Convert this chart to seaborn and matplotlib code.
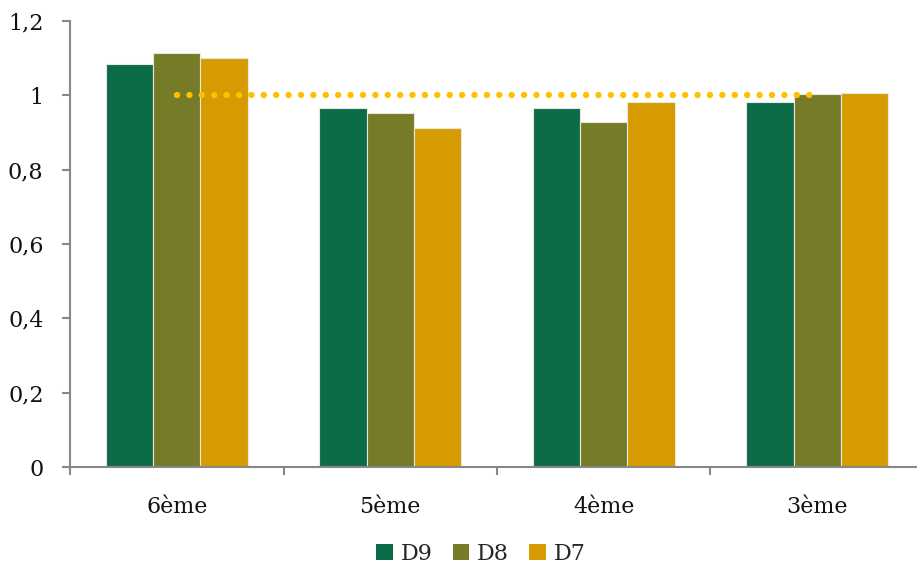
import matplotlib
matplotlib.use("Agg")
import matplotlib.pyplot as plt
import seaborn as sns
import pandas as pd
import numpy as np
from matplotlib.patches import Patch

categories = ["6ème", "5ème", "4ème", "3ème"]
series = ["D9", "D8", "D7"]
d9 = [1.083, 0.966, 0.966, 0.983]
d8 = [1.113, 0.953, 0.928, 1.004]
d7 = [1.100, 0.911, 0.981, 1.006]
ref_line = [1.0, 1.0]
yticks = [0, 0.2, 0.4, 0.6, 0.8, 1.0, 1.2]
ytick_labels = ["0", "0,2", "0,4", "0,6", "0,8", "1", "1,2"]

colors = {"D9": "#0C6C48", "D8": "#767B27", "D7": "#D69B00"}

df = pd.DataFrame({
    "classe": categories * 3,
    "serie": ["D9"] * 4 + ["D8"] * 4 + ["D7"] * 4,
    "valeur": d9 + d8 + d7,
})

sns.set_style("white")
plt.rcParams["font.family"] = ["DejaVu Serif"]

fig = plt.figure(figsize=(9.17, 5.68), dpi=100)
ax = fig.add_axes([70 / 917, 101 / 568, 854 / 917, 446 / 568])

sns.barplot(data=df, x="classe", y="valeur", hue="serie", order=categories,
            hue_order=series, palette=colors, width=0.665, gap=0,
            edgecolor="#E8E8E0", linewidth=0.8, ax=ax, legend=False,
            saturation=1)

ax.plot([0, 3], ref_line, color="#FFC000", lw=4.6, linestyle=(0, (0.01, 1.93)),
        dash_capstyle="round", zorder=5)

ax.set_xlim(-0.5, 3.5)
ax.set_ylim(0, 1.2)
ax.set_yticks(yticks)
ax.set_yticklabels(ytick_labels)
ax.set_xlabel("")
ax.set_ylabel("")

ax.set_xticks(range(len(categories)))
ax.set_xticklabels(categories)
ax.set_xticks([-0.5, 0.5, 1.5, 2.5, 3.5], minor=True)
ax.tick_params(axis="x", which="major", length=0, pad=21, labelsize=16, colors="#111111")
ax.tick_params(axis="x", which="minor", length=6, width=1.5, color="#888888", direction="out", bottom=True)
ax.tick_params(axis="y", length=6, width=1.5, color="#888888", direction="out", pad=13,
               labelsize=16, labelcolor="#111111", left=True)

for s in ["top", "right"]:
    ax.spines[s].set_visible(False)
for s in ["left", "bottom"]:
    ax.spines[s].set_color("#888888")
    ax.spines[s].set_linewidth(1.5)

handles = [Patch(facecolor=colors[s], edgecolor="none", label=s) for s in series]
fig.legend(handles=handles, loc="center", bbox_to_anchor=(481 / 917, 1 - 554 / 568),
           ncol=3, frameon=False, fontsize=16, handlelength=0.75, handleheight=0.75,
           handletextpad=0.35, columnspacing=0.9)

fig.savefig("out.png", dpi=100)
